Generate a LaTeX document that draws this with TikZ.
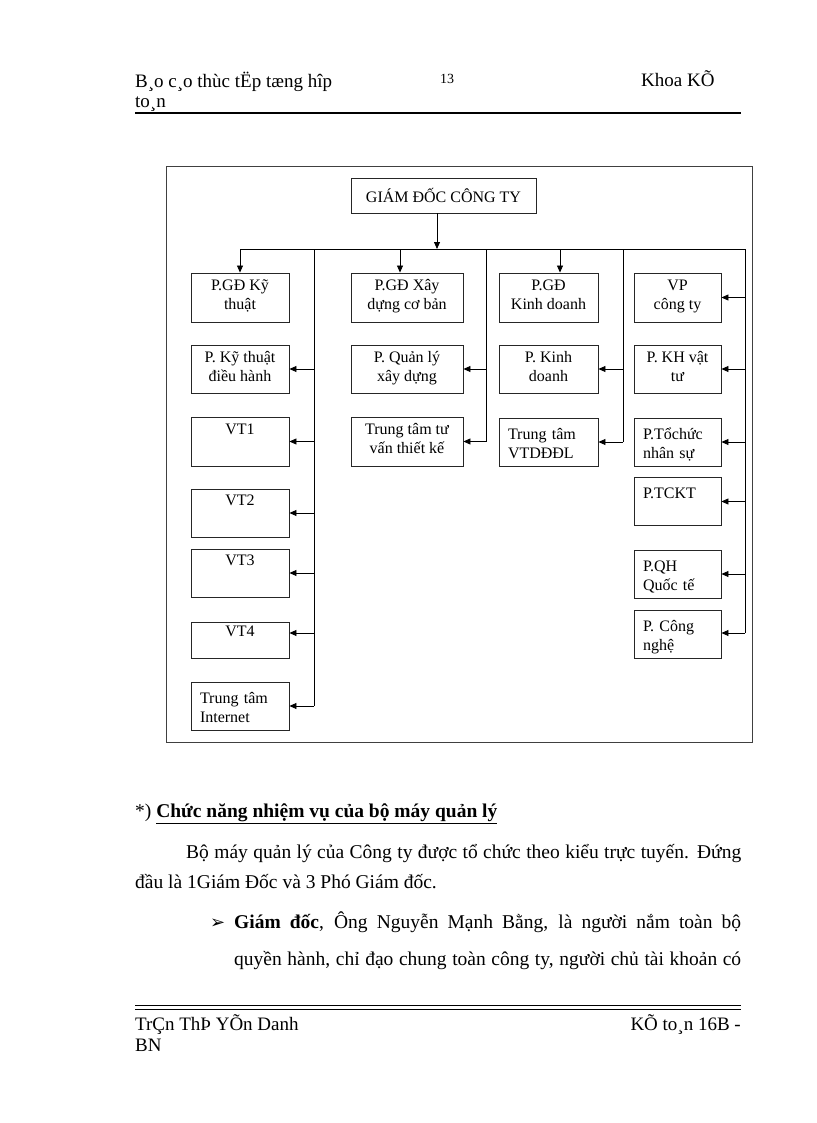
\documentclass[tikz,border=0pt]{standalone}
\usepackage{fontspec}
\setmainfont{Liberation Serif}
\newfontfamily\symfont{DejaVu Sans}
\usetikzlibrary{arrows.meta}
\begin{document}
\begin{tikzpicture}[x=1pt,y=-1pt,
  box/.style={draw=black!85, line width=0.9pt, inner sep=2pt, align=center,
    font=\fontsize{16}{19}\selectfont,
    execute at begin node={\rule{0pt}{19pt}}, execute at end node=\strut},
  lbox/.style={box, align=left, inner xsep=9pt, text width=#1},
  arr/.style={-{Triangle[length=7pt,width=6pt]}, line width=0.8pt},
  conn/.style={line width=0.8pt},
  hdr/.style={inner sep=0pt, font=\fontsize{19}{21}\selectfont},
  body/.style={inner sep=0pt, font=\fontsize{19.5}{22}\selectfont}]
\useasboundingbox (0,0) rectangle (816,1123);
\fill[white] (0,0) rectangle (816,1123);

% header
\node[hdr, anchor=base west] (h1) at (135,88) {B¸o c¸o thùc tËp tæng hîp};
\node[hdr, anchor=base west] (h2) at (135,108) {to¸n};
\node[hdr, anchor=base west, font=\fontsize{14}{17}\selectfont] (hn) at (440,84) {13};
\node[hdr, anchor=base west] (h3) at (641,87) {Khoa KÕ};
\draw[line width=2pt] (135,113.5) -- (741,113.5);

% frame
\draw[draw=black!75, line width=0.8pt] (166,166) rectangle (752,742);

% top
\node[box, minimum width=185pt, minimum height=35pt, execute at begin node=\strut] (gd) at (443.5,195.5) {GIÁM ĐỐC CÔNG TY};

% column 1
\node[box, minimum width=98pt, minimum height=49pt] (kt) at (240,297.5) {P.GĐ Kỹ\\thuật};
\node[box, minimum width=98pt, minimum height=48pt] (ktdh) at (240,369) {P. Kỹ thuật\\điều hành};
\node[box, minimum width=98pt, minimum height=49pt] (vt1) at (240,441.5) {VT1\\~};
\node[box, minimum width=98pt, minimum height=48pt] (vt2) at (240,513) {VT2\\~};
\node[box, minimum width=98pt, minimum height=48pt] (vt3) at (240,573) {VT3\\~};
\node[box, minimum width=98pt, minimum height=36pt] (vt4) at (240,640) {VT4\\[-8pt]~};
\node[lbox=80pt, minimum width=98pt, minimum height=48pt] (inet) at (240,706) {Trung tâm\\Internet};

% column 2
\node[box, minimum width=112pt, minimum height=49pt] (xd) at (407,297.5) {P.GĐ Xây\\dựng cơ bản};
\node[box, minimum width=112pt, minimum height=48pt] (qlxd) at (407,369) {P. Quản lý\\xây dựng};
\node[box, minimum width=112pt, minimum height=49pt] (tvtk) at (407,441.5) {Trung tâm tư\\vấn thiết kế};

% column 3
\node[box, minimum width=99pt, minimum height=49pt] (kd) at (548.5,297.5) {P.GĐ\\Kinh doanh};
\node[box, minimum width=99pt, minimum height=48pt] (pkd) at (548.5,369) {P. Kinh\\doanh};
\node[lbox=81pt, minimum width=99pt, minimum height=48pt] (vtd) at (548.5,442) {Trung tâm\\VTDĐĐL};

% column 4
\node[box, minimum width=87pt, minimum height=49pt] (vp) at (677.5,297.5) {VP\\công ty};
\node[box, minimum width=87pt, minimum height=48pt] (kh) at (677.5,369) {P. KH vật\\tư};
\node[lbox=69pt, minimum width=87pt, minimum height=48pt] (tc) at (677.5,442) {P.Tổchức\\nhân sự};
\node[lbox=69pt, minimum width=87pt, minimum height=47pt] (tckt) at (677.5,501.5) {P.TCKT\\~};
\node[lbox=69pt, minimum width=87pt, minimum height=48pt] (qh) at (677.5,574) {P.QH\\Quốc tế};
\node[lbox=69pt, minimum width=87pt, minimum height=48pt] (cn) at (677.5,634) {P. Công\\nghệ};

% bus
\coordinate (busL) at (240,249);
\coordinate (busR) at (745,249);
\coordinate (dG) at (437,249);
\coordinate (dX) at (400,249);
\coordinate (dK) at (560,249);
\coordinate (b1) at (314,249);
\coordinate (b2) at (486,249);
\coordinate (b3) at (623,249);

\draw[arr] (dG |- gd.south) -- (dG);
\draw[conn] (busL) -- (busR);
\draw[arr] (busL) -- (kt.north);
\draw[arr] (dX) -- (dX |- xd.north);
\draw[arr] (dK) -- (dK |- kd.north);

\draw[conn] (b1) -- (b1 |- inet.east);
\draw[conn] (b2) -- (b2 |- tvtk.east);
\draw[conn] (b3) -- (b3 |- vtd.east);
\draw[conn] (busR) -- ([yshift=1pt]busR |- cn.east);

\draw[arr] (b1 |- ktdh.east) -- (ktdh.east);
\draw[arr] (b1 |- vt1.east) -- (vt1.east);
\draw[arr] (b1 |- vt2.east) -- (vt2.east);
\draw[arr] (b1 |- vt3.east) -- (vt3.east);
\draw[arr] ([yshift=7pt]b1 |- vt4.east) -- ([yshift=7pt]vt4.east);
\draw[arr] (b1 |- inet.east) -- (inet.east);

\draw[arr] (b2 |- qlxd.east) -- (qlxd.east);
\draw[arr] (b2 |- tvtk.east) -- (tvtk.east);
\draw[arr] (b3 |- pkd.east) -- (pkd.east);
\draw[arr] (b3 |- vtd.east) -- (vtd.east);

\draw[arr] (busR |- vp.east) -- (vp.east);
\draw[arr] (busR |- kh.east) -- (kh.east);
\draw[arr] (busR |- tc.east) -- (tc.east);
\draw[arr] (busR |- tckt.east) -- (tckt.east);
\draw[arr] (busR |- qh.east) -- (qh.east);
\draw[arr] ([yshift=1pt]busR |- cn.east) -- ([yshift=1pt]cn.east);

% body text
\node[body, anchor=base west] (head) at (135,817) {*) \underline{\textbf{Chức năng nhiệm vụ của bộ máy quản lý}}};
\node[body, anchor=base west] (p1) at (186,858) {\makebox[555pt][s]{Bộ máy quản lý của Công ty được tổ chức theo kiểu trực tuyến. Đứng}};
\node[body, anchor=base west] (p2) at (135,888) {đầu là 1Giám Đốc và 3 Phó Giám đốc.};
\node[body, anchor=base west] (bul) at (210,928) {{\symfont\fontsize{18}{20}\selectfont ➢}};
\node[body, anchor=base west] (p3) at (234,928) {\makebox[507pt][s]{\textbf{Giám đốc}, Ông Nguyễn Mạnh Bằng, là người nắm toàn bộ}};
\node[body, anchor=base west] (p4) at (234,965) {\makebox[507pt][s]{quyền hành, chỉ đạo chung toàn công ty, người chủ tài khoản có}};

% footer
\draw[line width=0.8pt] (135,1005.5) -- (741,1005.5);
\draw[line width=0.8pt] (135,1009.5) -- (741,1009.5);
\node[hdr, anchor=base west] (f1) at (135,1030) {TrÇn ThÞ YÕn Danh};
\node[hdr, anchor=base west] (f2) at (135,1051) {BN};
\node[hdr, anchor=base east] (f3) at (741,1030) {KÕ to¸n 16B -};
\end{tikzpicture}
\end{document}
